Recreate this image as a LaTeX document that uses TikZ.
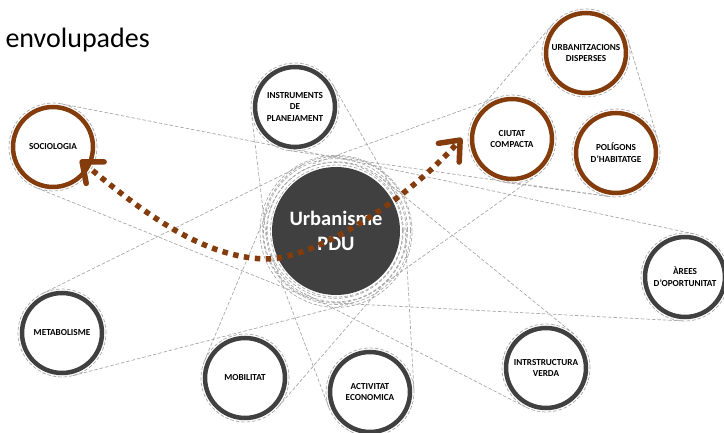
\documentclass[tikz,border=0pt]{standalone}
\usepackage{fontspec}
\setmainfont{Carlito}
\usetikzlibrary{calc,arrows.meta}
\pgfdeclarelayer{bg}
\pgfsetlayers{bg,main}
\definecolor{dgray}{HTML}{404040}
\definecolor{brownc}{HTML}{843C0C}
\definecolor{hullgray}{HTML}{A8A8A8}
\newcommand\hullcen[2]{%
  \draw[hullline] let \p1=(#1.center), \p2=(cen.center),
    \n1={atan2(\y2-\y1,\x2-\x1)},
    \n2={acos((44-#2)/veclen(\x2-\x1,\y2-\y1))}
  in ($(\p1)+(\n1+\n2:44pt)$) -- ($(\p2)+(\n1+\n2:#2pt)$)
     ($(\p1)+(\n1-\n2:44pt)$) -- ($(\p2)+(\n1-\n2:#2pt)$);
}
\begin{document}
\begin{tikzpicture}[x=1pt,y=1pt,
  topic/.style={circle, draw=dgray, line width=4.5pt, fill=white, minimum size=80pt,
    inner sep=0pt, align=center, font=\bfseries\fontsize{9.2}{11.7}\selectfont},
  btopic/.style={topic, draw=brownc},
  cenc/.style={circle, fill=dgray, minimum size=128pt, inner sep=0pt, align=center,
    text=white, font=\bfseries\fontsize{20.5}{25}\selectfont},
  hullline/.style={draw=hullgray, line width=0.7pt, dash pattern=on 3.5pt off 2pt},
  flow/.style={draw=brownc, line width=5.5pt, dash pattern=on 5.5pt off 5.5pt,
    {Straight Barb[length=17pt,width=28pt,round]}-{Straight Barb[length=17pt,width=28pt,round]}}
]
\useasboundingbox (0,0) rectangle (724,432);
\node[anchor=base west, font=\fontsize{28}{32}\selectfont] (title) at (2,384) {envolupades};
\node[cenc] (cen) at (336,201) {Urbanisme\\PDU};
\node[btopic] (soc) at (53,285) {SOCIOLOGIA};
\node[topic] (inst) at (295,325) {INSTRUMENTS\\DE\\PLANEJAMENT};
\node[btopic] (urb) at (586,379) {URBANITZACIONS\\DISPERSES};
\node[btopic] (ciu) at (512,293) {CIUTAT\\COMPACTA};
\node[btopic] (pol) at (616,279) {POLÍGONS\\D’HABITATGE};
\node[topic] (are) at (685,155) {ÀREES\\D’OPORTUNITAT};
\node[topic] (intr) at (546,64) {INTRSTRUCTURA\\VERDA};
\node[topic] (act) at (370,40) {ACTIVITAT\\ECONOMICA};
\node[topic] (mob) at (245,54) {MOBILITAT};
\node[topic] (met) at (62,99) {METABOLISME};
\begin{pgfonlayer}{bg}
  \foreach \n in {soc,inst,urb,ciu,pol,are,intr,act,mob,met}
    \draw[hullline] (\n.center) circle[radius=44pt];
  \foreach \r/\dx/\dy in {66/0.5/0,68/-0.8/0.6,70/0.4/-0.8,72/-0.5/0.3,74/0.6/0.5,76/0/-0.4}
    \draw[hullline] ($(cen.center)+(\dx,\dy)$) circle[radius=\r pt];
  \hullcen{soc}{72}
  \hullcen{inst}{70}
  \hullcen{ciu}{71}
  \hullcen{are}{72}
  \hullcen{intr}{70}
  \hullcen{act}{69}
  \hullcen{mob}{71}
  \hullcen{met}{74}
  \draw[hullline] ($(urb.center)+(16.7:44pt)$) -- ($(pol.center)+(16.7:44pt)$);
  \draw[hullline] ($(ciu.center)+(139.3:44pt)$) -- ($(urb.center)+(139.3:44pt)$);
  \draw[hullline] ($(ciu.center)+(-97.7:44pt)$) -- ($(pol.center)+(-97.7:44pt)$);
  \draw[hullline] ($(inst.center)+(-98.2:44pt)$) -- ($(pol.center)+(-98.2:44pt)$);
\end{pgfonlayer}
\coordinate (socTip) at (80,272);
\coordinate (ciuTip) at (462,294);
\coordinate (low) at (265,173);
\draw[flow] (socTip) .. controls (140,222) and (200,175) .. (low)
  .. controls (310,172) and (400,225) .. (ciuTip);
\end{tikzpicture}
\end{document}
